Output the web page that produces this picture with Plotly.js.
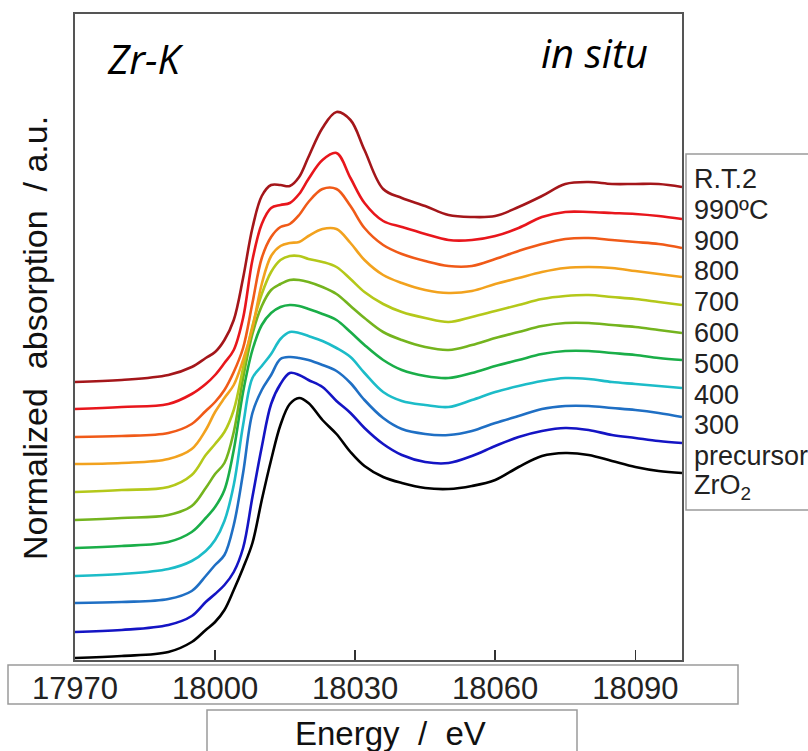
<!DOCTYPE html>
<html>
<head>
<meta charset="utf-8">
<script src="https://cdn.plot.ly/plotly-3.0.1.min.js"></script>
<style>html,body{margin:0;padding:0;background:#fff;}#chart{width:808px;height:751px;}</style>
</head>
<body>
<div id="chart"></div>
<script>
// Energy grid (eV)
const energy = [17970, 17980, 17990, 17995, 17998, 18000, 18002, 18004, 18006, 18008, 18010, 18012, 18014, 18016, 18018, 18020, 18023, 18026, 18029, 18032, 18036, 18040, 18045, 18050, 18055, 18060, 18065, 18070, 18075, 18080, 18085, 18090, 18095, 18100];

// Normalized absorption of each sample (before vertical offset)
const zro2 = [0.00, 0.01, 0.03, 0.08, 0.14, 0.18, 0.24, 0.34, 0.45, 0.575, 0.79, 0.99, 1.165, 1.27, 1.30, 1.275, 1.19, 1.12, 1.03, 0.96, 0.905, 0.875, 0.85, 0.845, 0.86, 0.89, 0.955, 1.01, 1.025, 1.015, 0.985, 0.955, 0.935, 0.925];
const precursor = [-0.005, 0.005, 0.03, 0.075, 0.145, 0.185, 0.23, 0.295, 0.415, 0.67, 0.92, 1.135, 1.235, 1.29, 1.28, 1.255, 1.22, 1.15, 1.09, 1.015, 0.935, 0.88, 0.845, 0.84, 0.875, 0.925, 0.97, 1.0, 1.015, 1.005, 0.98, 0.965, 0.95, 0.94];
const t300 = [0, 0.005, 0.02, 0.06, 0.135, 0.19, 0.24, 0.39, 0.65, 0.95, 1.065, 1.14, 1.22, 1.23, 1.225, 1.215, 1.19, 1.16, 1.10, 1.015, 0.925, 0.87, 0.845, 0.84, 0.86, 0.90, 0.935, 0.97, 0.985, 0.985, 0.975, 0.965, 0.95, 0.93];
const t400 = [0, 0.01, 0.035, 0.075, 0.125, 0.18, 0.275, 0.455, 0.755, 0.99, 1.05, 1.11, 1.185, 1.22, 1.215, 1.20, 1.175, 1.14, 1.095, 1.015, 0.92, 0.875, 0.855, 0.845, 0.88, 0.92, 0.95, 0.975, 0.99, 0.985, 0.97, 0.96, 0.95, 0.94];
const t500 = [0, 0.01, 0.03, 0.08, 0.15, 0.205, 0.29, 0.49, 0.78, 0.99, 1.115, 1.175, 1.205, 1.215, 1.21, 1.195, 1.17, 1.14, 1.08, 1.015, 0.94, 0.89, 0.86, 0.85, 0.875, 0.91, 0.94, 0.97, 0.985, 0.985, 0.975, 0.965, 0.95, 0.94];
const t600 = [0, 0.01, 0.025, 0.07, 0.16, 0.23, 0.285, 0.44, 0.71, 0.93, 1.07, 1.15, 1.18, 1.20, 1.20, 1.19, 1.165, 1.13, 1.07, 1.01, 0.94, 0.90, 0.865, 0.85, 0.875, 0.91, 0.94, 0.97, 0.985, 0.985, 0.975, 0.965, 0.95, 0.935];
const t700 = [0, 0.01, 0.025, 0.085, 0.185, 0.24, 0.30, 0.41, 0.62, 0.83, 0.99, 1.10, 1.16, 1.18, 1.18, 1.165, 1.15, 1.125, 1.065, 1.00, 0.94, 0.90, 0.87, 0.85, 0.875, 0.905, 0.935, 0.965, 0.98, 0.985, 0.975, 0.965, 0.95, 0.935];
const t800 = [0, 0.005, 0.025, 0.075, 0.17, 0.26, 0.33, 0.395, 0.52, 0.68, 0.90, 1.04, 1.09, 1.105, 1.11, 1.14, 1.175, 1.175, 1.105, 1.02, 0.945, 0.905, 0.87, 0.855, 0.865, 0.90, 0.93, 0.96, 0.98, 0.985, 0.98, 0.965, 0.95, 0.935];
const t900 = [0, 0.005, 0.02, 0.065, 0.13, 0.175, 0.235, 0.325, 0.445, 0.67, 0.895, 1.0, 1.05, 1.065, 1.11, 1.175, 1.24, 1.24, 1.155, 1.045, 0.96, 0.915, 0.88, 0.855, 0.855, 0.89, 0.93, 0.965, 0.99, 0.995, 0.985, 0.975, 0.965, 0.945];
const t990 = [0, 0.01, 0.025, 0.075, 0.125, 0.17, 0.23, 0.295, 0.455, 0.745, 0.925, 1.005, 1.02, 1.03, 1.075, 1.15, 1.245, 1.28, 1.155, 1.03, 0.94, 0.91, 0.875, 0.845, 0.845, 0.865, 0.905, 0.96, 0.985, 0.985, 0.98, 0.975, 0.965, 0.95];
const rt2 = [0, 0.01, 0.035, 0.075, 0.12, 0.15, 0.21, 0.31, 0.52, 0.77, 0.93, 0.985, 0.985, 0.98, 1.025, 1.125, 1.27, 1.35, 1.31, 1.16, 0.965, 0.92, 0.88, 0.835, 0.825, 0.83, 0.875, 0.93, 0.99, 1.0, 0.99, 0.99, 0.99, 0.975];

// Series, bottom to top
const seriesValues = [zro2, precursor, t300, t400, t500, t600, t700, t800, t900, t990, rt2];
const seriesLabels = ["ZrO<sub>2</sub>", "precursor", "300", "400", "500", "600", "700", "800", "900", "990ºC", "R.T.2"];
const seriesOffsets = [0, 0.135, 0.275, 0.41, 0.55, 0.69, 0.83, 0.97, 1.105, 1.245, 1.38];
const seriesColors = ["#000000", "#1414c4", "#1f6fc4", "#1cbcc8", "#1aae48", "#74b41e", "#b4c81a", "#f2a21e", "#f05a18", "#e8161c", "#a4161a"];

const tickVals = [17970, 18000, 18030, 18060, 18090];
const tickText = ["17970", "18000", "18030", "18060", "18090"];

const traces = seriesValues.map((vals, i) => ({
  type: 'scatter', mode: 'lines', name: seriesLabels[i],
  x: energy, y: vals.map(v => v + seriesOffsets[i]),
  line: {color: seriesColors[i], width: 2.6, shape: 'spline', smoothing: 1},
  hoverinfo: 'skip'
}));

// plot area: x 75..682, y 14..660 px
const px = x => (x - 75) / 607;
const py = y => (660 - y) / 646;

const labelFont = {family: 'Liberation Sans, Arial, sans-serif', size: 27, color: '#222'};
const annotations = [];
// right-side labels, top to bottom
for (let k = 0; k < seriesLabels.length; k++) {
  const i = seriesLabels.length - 1 - k;
  annotations.push({xref: 'paper', yref: 'paper', x: px(692), y: py(179 + k * 30.8),
    xanchor: 'left', yanchor: 'middle', text: seriesLabels[i], showarrow: false, font: labelFont});
}
annotations.push({xref: 'paper', yref: 'paper', x: px(145), y: py(58), xanchor: 'center', yanchor: 'middle',
  text: '<i>Zr-K</i>', showarrow: false, font: {family: 'Open Sans, sans-serif', size: 40, color: '#000'}});
annotations.push({xref: 'paper', yref: 'paper', x: px(594), y: py(52), xanchor: 'center', yanchor: 'middle',
  text: '<i>in situ</i>', showarrow: false, font: {family: 'Open Sans, sans-serif', size: 40, color: '#000'}});
annotations.push({xref: 'paper', yref: 'paper', x: px(390), y: py(733), xanchor: 'center', yanchor: 'middle',
  text: 'Energy\u00a0 /\u00a0 eV', showarrow: false, font: {family: 'Liberation Sans, Arial, sans-serif', size: 33, color: '#111'}});
annotations.push({xref: 'paper', yref: 'paper', x: px(35), y: py(338), xanchor: 'center', yanchor: 'middle', textangle: -90,
  text: 'Normalized\u00a0 absorption\u00a0 /\u00a0a.u.', showarrow: false, font: {family: 'Liberation Sans, Arial, sans-serif', size: 34, color: '#111'}});

const boxLine = {color: '#9a9a9a', width: 1.5};
const shapes = [
  {type: 'rect', xref: 'paper', yref: 'paper', x0: px(8), x1: px(738), y0: py(704), y1: py(665), line: boxLine, fillcolor: 'rgba(0,0,0,0)'},
  {type: 'rect', xref: 'paper', yref: 'paper', x0: px(207), x1: px(577), y0: py(770), y1: py(710), line: boxLine, fillcolor: 'rgba(0,0,0,0)'},
  {type: 'rect', xref: 'paper', yref: 'paper', x0: px(686), x1: px(840), y0: py(510), y1: py(154), line: boxLine, fillcolor: 'rgba(0,0,0,0)'}
];

const layout = {
  width: 808, height: 751,
  margin: {l: 75, r: 126, t: 14, b: 91, pad: 0},
  paper_bgcolor: '#fff', plot_bgcolor: '#fff',
  showlegend: false,
  xaxis: {range: [17970, 18100], showline: true, mirror: true, linecolor: '#555', linewidth: 2,
    ticks: 'inside', ticklen: 10, tickwidth: 1.5, tickcolor: '#333',
    tickmode: 'array', tickvals: tickVals, ticktext: tickText, ticklabelstandoff: 0,
    tickfont: {family: 'Liberation Sans, Arial, sans-serif', size: 31, color: '#222'},
    showgrid: false, zeroline: false},
  yaxis: {range: [-0.01, 3.22], showline: true, mirror: true, linecolor: '#555', linewidth: 2,
    ticks: '', showticklabels: false, showgrid: false, zeroline: false},
  annotations: annotations,
  shapes: shapes
};

Plotly.newPlot('chart', traces, layout, {displayModeBar: false, staticPlot: true});
</script>
</body>
</html>
